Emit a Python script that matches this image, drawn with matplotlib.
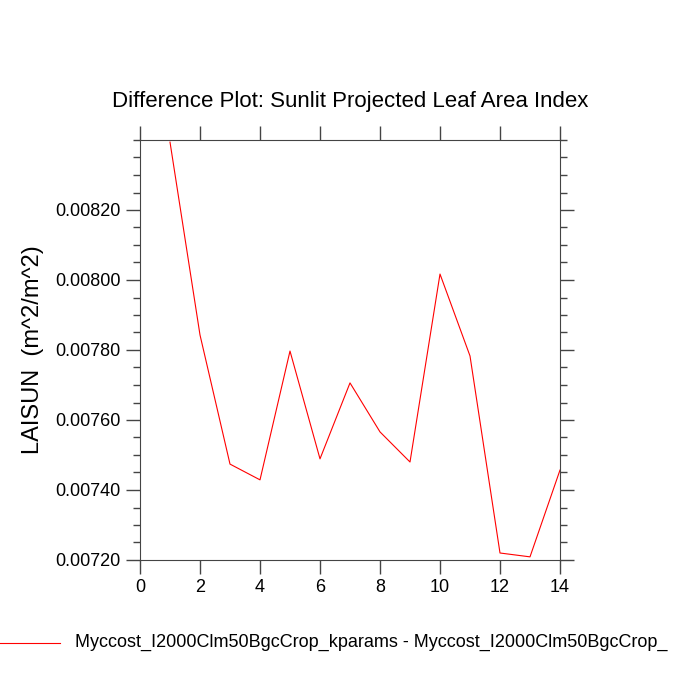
import matplotlib
matplotlib.use("Agg")
from matplotlib import pyplot as plt
from matplotlib.ticker import MultipleLocator, FixedLocator, FormatStrFormatter

plt.rcParams['font.family'] = ['Liberation Sans', 'DejaVu Sans']

x = [1, 2, 3, 4, 5, 6, 7, 8, 9, 10, 11, 12, 13, 14]
laisun = [0.008394, 0.007843, 0.007474, 0.007429, 0.007797, 0.007489, 0.007706,
          0.007566, 0.007480, 0.008017, 0.007783, 0.007220, 0.007209, 0.007457]
yticks = [0.0072, 0.0074, 0.0076, 0.0078, 0.0080, 0.0082]
legend_label = "Myccost_I2000Clm50BgcCrop_kparams - Myccost_I2000Clm50BgcCrop_"

fig = plt.figure(figsize=(7, 7), dpi=100)
ax = fig.add_axes([0.2, 0.2, 0.6, 0.6])
ax.plot(x, laisun, color="red", linewidth=0.8)
ax.set_xlim(0, 14)
ax.set_ylim(0.0072, 0.0084)
ax.xaxis.set_major_locator(MultipleLocator(2))
ax.yaxis.set_major_locator(FixedLocator(yticks))
ax.yaxis.set_minor_locator(MultipleLocator(0.00005))
ax.yaxis.set_major_formatter(FormatStrFormatter("%.5f"))
for s in ax.spines.values():
    s.set_color("#444444")
ax.tick_params(which="both", direction="out", top=True, right=True, labelsize=13,
               color="#444444", width=1)
ax.tick_params(which="major", length=10, pad=4)
ax.tick_params(which="minor", length=5)
ax.set_ylabel("LAISUN  (m^2/m^2)", fontsize=17, labelpad=8)
ax.set_title("Difference Plot: Sunlit Projected Leaf Area Index", fontsize=16, pad=24)

fig.add_artist(plt.Line2D([0.0, 0.086], [0.082, 0.082], color="red", linewidth=0.8))
fig.text(0.107, 0.082, legend_label, fontsize=13, va="center")

fig.savefig("out.png", dpi=100)
